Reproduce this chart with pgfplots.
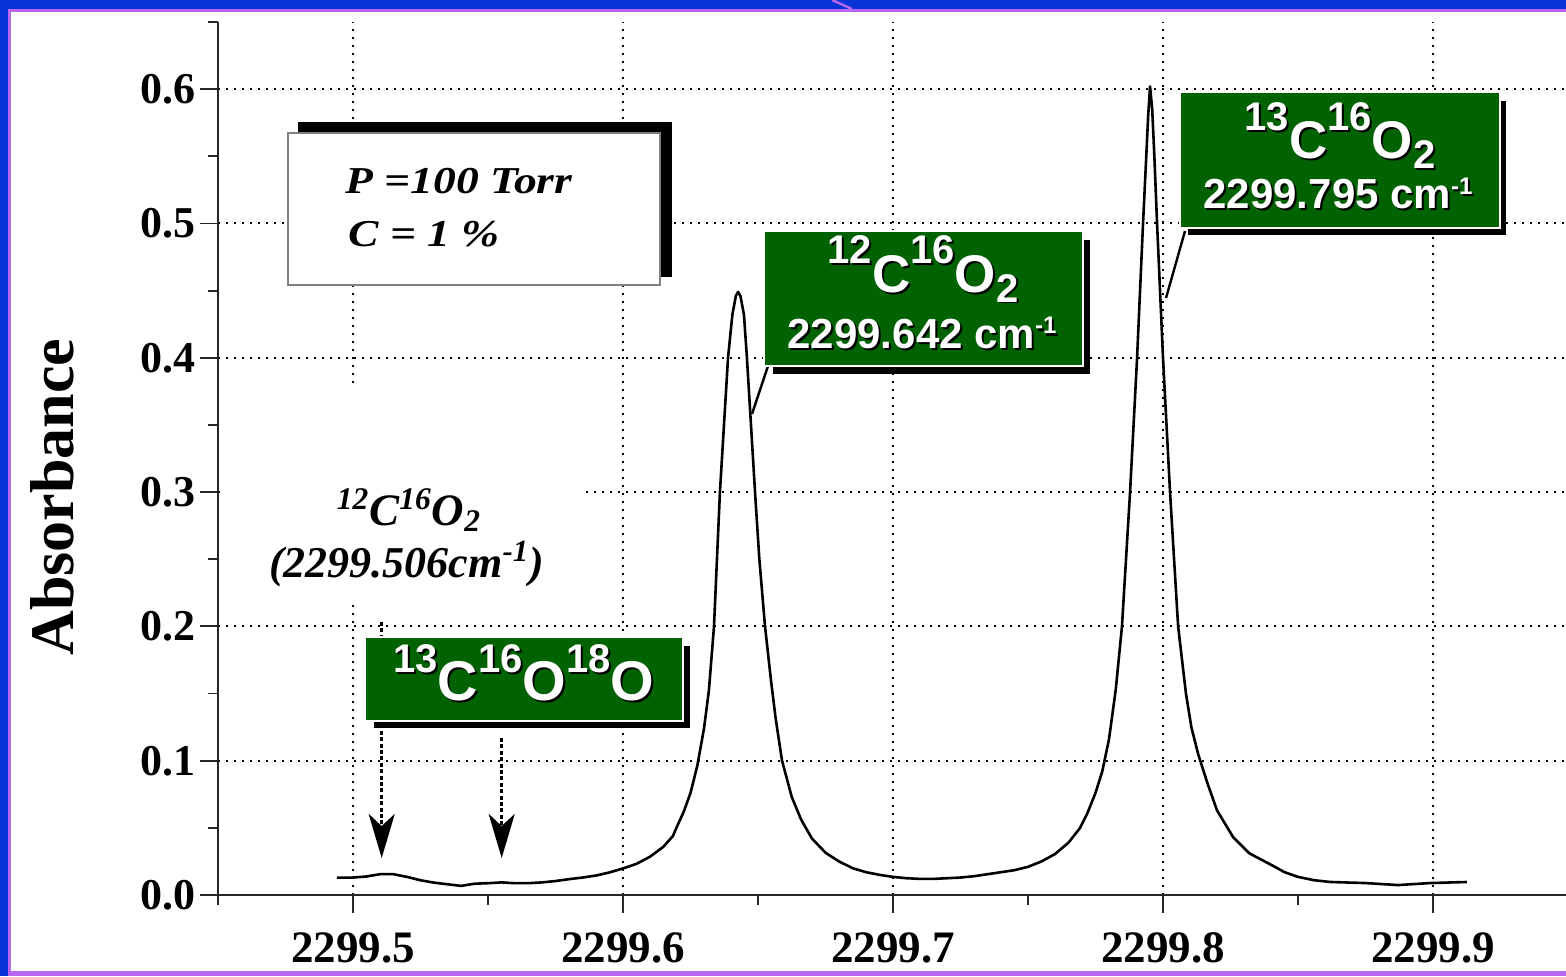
\documentclass[border=0pt]{standalone}
\usepackage{pgfplots}
\pgfplotsset{compat=1.18}
\usepackage{fontspec}
\setmainfont{Liberation Serif}
\newfontfamily\arialfont{Liberation Sans}
\usepackage{graphicx}
\usetikzlibrary{arrows.meta}
\definecolor{frameblue}{RGB}{6,52,214}
\definecolor{framepurple}{RGB}{184,104,240}
\definecolor{boxgreen}{RGB}{0,98,0}

% spectrum: x = wavenumber - 2299 (cm^-1), y = absorbance
\pgfplotstableread{
x y
0.494 0.0130
0.500 0.0130
0.505 0.0138
0.510 0.0155
0.515 0.0155
0.520 0.0135
0.525 0.0110
0.530 0.0092
0.535 0.0080
0.540 0.0068
0.545 0.0084
0.550 0.0088
0.555 0.0094
0.560 0.0088
0.565 0.0088
0.570 0.0094
0.575 0.0104
0.580 0.0118
0.585 0.0130
0.590 0.0145
0.595 0.0168
0.600 0.0198
0.605 0.0232
0.610 0.0285
0.615 0.0360
0.6185 0.0440
0.620 0.0510
0.6225 0.0620
0.625 0.0760
0.6275 0.0960
0.630 0.1240
0.6318 0.1520
0.6337 0.2000
0.6348 0.2500
0.6359 0.3000
0.6374 0.3500
0.6389 0.4000
0.6405 0.4320
0.6418 0.4460
0.6426 0.4490
0.6435 0.4460
0.6448 0.4320
0.6459 0.4000
0.6474 0.3500
0.6489 0.3000
0.6505 0.2500
0.6526 0.2000
0.6548 0.1600
0.6565 0.1320
0.6589 0.1000
0.6625 0.0730
0.666 0.0560
0.670 0.0420
0.675 0.0315
0.680 0.0250
0.685 0.0200
0.690 0.0170
0.695 0.0150
0.700 0.0135
0.705 0.0125
0.710 0.0120
0.715 0.0120
0.720 0.0125
0.725 0.0130
0.730 0.0140
0.735 0.0155
0.740 0.0170
0.745 0.0185
0.750 0.0210
0.755 0.0250
0.760 0.0305
0.765 0.0390
0.7693 0.0500
0.772 0.0610
0.775 0.0760
0.7775 0.0920
0.780 0.1160
0.7825 0.1530
0.7848 0.2000
0.7863 0.2500
0.7878 0.3000
0.7891 0.3500
0.7904 0.4000
0.7915 0.4500
0.7926 0.5000
0.7938 0.5500
0.7945 0.5800
0.7952 0.6020
0.7960 0.5850
0.7968 0.5500
0.7978 0.5000
0.7989 0.4500
0.8000 0.4000
0.8013 0.3500
0.8026 0.3000
0.8041 0.2500
0.8056 0.2000
0.8085 0.1500
0.8105 0.1250
0.8130 0.1050
0.8165 0.0830
0.820 0.0630
0.826 0.0430
0.832 0.0310
0.8405 0.0220
0.845 0.0170
0.850 0.0135
0.856 0.0110
0.862 0.0097
0.875 0.0089
0.887 0.0074
0.899 0.0089
0.9125 0.0097
}\spectrum

\newcommand{\gsup}[1]{\raisebox{14pt}{\fontsize{20}{20}\selectfont #1}}
\newcommand{\gsub}[1]{\raisebox{-5pt}{\fontsize{20}{20}\selectfont #1}}
\newcommand{\gbig}{\arialfont\bfseries\fontsize{26.5}{26.5}\selectfont}
\newcommand{\gsmall}{\arialfont\bfseries\fontsize{21}{21}\selectfont}
\newcommand{\cmm}{cm\raisebox{7pt}{\fontsize{12}{12}\selectfont -1}}
\newcommand{\stxt}[3]{%
  \node[anchor=base, inner sep=0pt, text=black] at (#1+2,#2+2) {#3};
  \node[anchor=base, inner sep=0pt, text=white] at (#1,#2) {#3};}

\begin{document}
\begin{tikzpicture}
\begin{axis}[
  scale only axis, width=675pt, height=436.5pt,
  xmin=0.45, xmax=0.95, ymin=0, ymax=0.65,
  axis x line*=bottom, axis y line*=left,
  axis line style={black!85, line width=0.9pt},
  xtick={0.5,0.6,0.7,0.8,0.9},
  xticklabels={2299.5,2299.6,2299.7,2299.8,2299.9},
  minor xtick={0.45,0.55,0.65,0.75,0.85,0.95},
  ytick={0,0.1,0.2,0.3,0.4,0.5,0.6},
  yticklabels={0.0,0.1,0.2,0.3,0.4,0.5,0.6},
  minor ytick={0.05,0.15,0.25,0.35,0.45,0.55,0.65},
  tick align=outside, major tick length=9pt, minor tick length=5pt,
  tick style={black!85, line width=0.9pt},
  grid=major,
  major grid style={black, line width=1pt, dash pattern=on 1.2pt off 2.8pt},
  xticklabel style={font=\bfseries\fontsize{22.5}{22.5}\selectfont, inner sep=0pt, yshift=-9.5pt},
  yticklabel style={font=\bfseries\fontsize{22}{22}\selectfont, inner sep=0pt, xshift=-2pt},
  ylabel={Absorbance},
  ylabel style={font=\bfseries\fontsize{31}{31}\selectfont, at={(axis description cs:-0.123,0.456)}, anchor=center},
  clip=false,
]
\addplot[black, line width=1.3pt, line join=round] table[x=x, y=y] {\spectrum};
\end{axis}

\begin{scope}[x=0.5pt, y=-0.5pt, shift={(-218,-895)}]
  % white area behind the italic label
  \fill[white] (220,385) rectangle (580,603);
  \node[anchor=base, inner sep=0pt, font=\bfseries\itshape\fontsize{22.5}{22.5}\selectfont] at (409,525)
    {\textsuperscript{12}C\textsuperscript{16}O\textsubscript{2}};
  \node[anchor=base, inner sep=0pt, font=\bfseries\itshape\fontsize{22}{22}\selectfont] at (406.5,577)
    {(2299.506cm\textsuperscript{-1})};
  % arrows
  \draw[black, line width=1.6pt, dash pattern=on 2pt off 1.2pt, -{Stealth[length=22pt, width=13pt, inset=6pt]}]
    (381.7,622) -- (381.7,858);
  \draw[black, line width=1.6pt, dash pattern=on 2pt off 1.2pt, -{Stealth[length=22pt, width=13pt, inset=6pt]}]
    (501.7,738) -- (501.7,858);
  % P box
  \fill[black] (298,122) rectangle (672,277);
  \draw[gray, line width=0.8pt, fill=white] (288,133) rectangle (660,285);
  \node[anchor=base west, inner sep=0pt, font=\bfseries\itshape\fontsize{19}{19}\selectfont] at (345,194)
    {\scalebox{1.2}[1]{P =100 Torr}};
  \node[anchor=base west, inner sep=0pt, font=\bfseries\itshape\fontsize{19}{19}\selectfont] at (348,247)
    {\scalebox{1.2}[1]{C = 1 \%}};
  % callout lines
  \draw[black, line width=1.2pt] (768,366) -- (752,414);
  \draw[black, line width=1.2pt] (1185,231) -- (1166,298);
  % box 1: 13C16O2
  \fill[black] (1188,101) rectangle (1506,235);
  \fill[white] (1179,91) rectangle (1501,229);
  \fill[boxgreen] (1181,93) rectangle (1499,227);
  \stxt{1340}{159}{\gbig\gsup{13}C\gsup{16}O\gsub{2}}
  \stxt{1338}{209}{\gsmall 2299.795 \cmm}
  % box 2: 12C16O2
  \fill[black] (773,240) rectangle (1090,374);
  \fill[white] (763,230) rectangle (1084,367);
  \fill[boxgreen] (765,232) rectangle (1082,365);
  \stxt{923}{292}{\gbig\gsup{12}C\gsup{16}O\gsub{2}}
  \stxt{922}{348}{\gsmall 2299.642 \cmm}
  % box 3: 13C16O18O
  \fill[black] (374,646) rectangle (690,728);
  \fill[white] (364,636) rectangle (684,722);
  \fill[boxgreen] (366,638) rectangle (682,720);
  \stxt{524}{700}{\arialfont\bfseries\fontsize{28}{28}\selectfont\gsup{13}C\gsup{16}O\gsup{18}O}
  % slide frame
  \fill[frameblue] (0,0) rectangle (1566,9);
  \fill[frameblue] (0,0) rectangle (8,976);
  \fill[framepurple] (8,9) rectangle (1566,12);
  \fill[framepurple] (8,9) rectangle (11,976);
  \fill[framepurple] (8,971) rectangle (1566,976);
  \draw[framepurple, line width=1.2pt] (832,0) -- (852,9);
\end{scope}
\pgfresetboundingbox
\path[use as bounding box] (-109pt,-40.5pt) rectangle (674pt,447.5pt);
\end{tikzpicture}
\end{document}
